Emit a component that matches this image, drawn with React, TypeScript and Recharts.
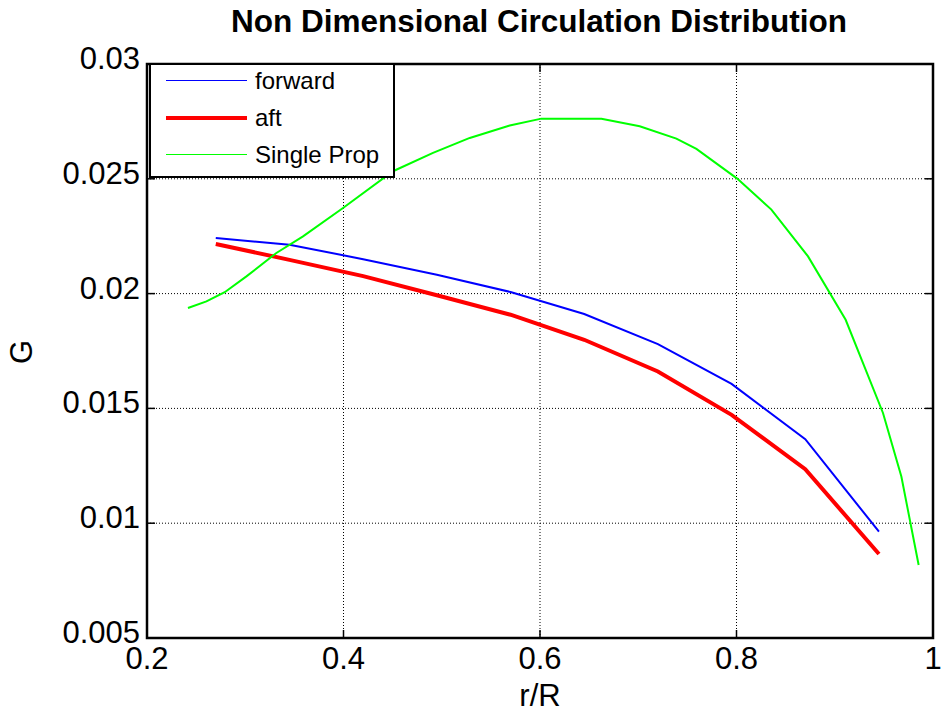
import React from 'react';
import {
  CartesianGrid,
  Line,
  LineChart,
  ReferenceArea,
  XAxis,
  YAxis,
} from 'recharts';

// radial stations of the forward / aft propellers
const rStations = [0.27, 0.345, 0.42, 0.495, 0.57, 0.645, 0.72, 0.795, 0.87, 0.945];
const forwardG = [0.02242, 0.02213, 0.0215, 0.02082, 0.02007, 0.01911, 0.0178, 0.01607, 0.01366, 0.00963];
const aftG = [0.02216, 0.02147, 0.02076, 0.01993, 0.01908, 0.01799, 0.01661, 0.01472, 0.01235, 0.00866];

// single propeller case uses its own stations
const singlePropR = [
  0.2417, 0.2605, 0.2791, 0.3012, 0.3317, 0.3588, 0.3995, 0.4504, 0.4911, 0.5285, 0.5692, 0.6014,
  0.6625, 0.7015, 0.7388, 0.7592, 0.8007, 0.8355, 0.8728, 0.9111, 0.9491, 0.9678, 0.9854,
];
const singlePropG = [
  0.01937, 0.01966, 0.02006, 0.02075, 0.02177, 0.02249, 0.02373, 0.02533, 0.02613, 0.02678, 0.02732, 0.02762,
  0.02762, 0.02729, 0.02675, 0.0263, 0.02501, 0.02366, 0.02162, 0.01886, 0.0148, 0.01203, 0.00818,
];

const xTicks = [0.2, 0.4, 0.6, 0.8, 1];
const yTicks = [0.005, 0.01, 0.015, 0.02, 0.025, 0.03];

const forwardData = rStations.map((r, i) => ({ r, g: forwardG[i] }));
const aftData = rStations.map((r, i) => ({ r, g: aftG[i] }));
const singleData = singlePropR.map((r, i) => ({ r, g: singlePropG[i] }));

const FONT = '"Liberation Sans", Arial, Helvetica, sans-serif';
const TICK_LEN = 8;

const LeftTick = (props: any) => {
  const { x, y, payload } = props;
  return (
    <g>
      <line x1={x + 7} x2={x + 7 + TICK_LEN} y1={y} y2={y} stroke="#000" strokeWidth={1.5} />
      <text x={x} y={y} dy={5} textAnchor="end" fontSize={31} fill="#000" fontFamily={FONT}>
        {payload.value}
      </text>
    </g>
  );
};

const BottomTick = (props: any) => {
  const { x, y, payload } = props;
  return (
    <g>
      <line x1={x} x2={x} y1={y - 9} y2={y - 9 - TICK_LEN} stroke="#000" strokeWidth={1.5} />
      <text x={x} y={y} dy="0.72em" textAnchor="middle" fontSize={31} fill="#000" fontFamily={FONT}>
        {payload.value}
      </text>
    </g>
  );
};

const RightTick = (props: any) => {
  const { x, y } = props;
  return <line x1={x - TICK_LEN} x2={x} y1={y} y2={y} stroke="#000" strokeWidth={1.5} />;
};

const TopTick = (props: any) => {
  const { x, y } = props;
  return <line x1={x} x2={x} y1={y} y2={y + TICK_LEN} stroke="#000" strokeWidth={1.5} />;
};

const legendItems = [
  { name: 'forward', color: '#0000ff', width: 1.5 },
  { name: 'aft', color: '#ff0000', width: 4 },
  { name: 'Single Prop', color: '#00ff00', width: 1.5 },
];

const LegendBox = () => (
  <div
    style={{
      position: 'absolute',
      left: 149,
      top: 63,
      width: 242,
      height: 111,
      border: '2px solid #000',
      background: '#fff',
      fontFamily: FONT,
      fontSize: 24,
      color: '#000',
      overflow: 'hidden',
    }}
  >
    <div style={{ transform: 'translateY(-3px)' }}>
      {legendItems.map(item => (
        <div key={item.name} style={{ display: 'flex', alignItems: 'center', height: 37 }}>
          <div style={{ width: 81, height: item.width, background: item.color, marginLeft: 15 }} />
          <span style={{ marginLeft: 8, lineHeight: '37px' }}>{item.name}</span>
        </div>
      ))}
    </div>
  </div>
);

export default function App() {
  return (
    <div style={{ position: 'absolute', left: 0, top: 0, width: 941, height: 717, background: '#fff' }}>
      <LineChart
        width={941}
        height={717}
        margin={{ top: 63, right: 7, bottom: 39, left: 47 }}
        style={{ position: 'absolute', left: 0, top: 0 }}
      >
        <CartesianGrid stroke="#000" strokeDasharray="1 2" strokeWidth={1} />
        <XAxis
          xAxisId={0}
          type="number"
          dataKey="r"
          domain={[0.2, 1]}
          ticks={xTicks}
          allowDataOverflow
          height={40}
          axisLine={false}
          tickLine={false}
          tickSize={0}
          tickMargin={9}
          tick={<BottomTick />}
        />
        <XAxis
          xAxisId="top"
          orientation="top"
          type="number"
          dataKey="r"
          domain={[0.2, 1]}
          ticks={xTicks}
          allowDataOverflow
          height={1}
          axisLine={false}
          tickLine={false}
          tickSize={0}
          tickMargin={0}
          tick={<TopTick />}
        />
        <YAxis
          yAxisId={0}
          type="number"
          domain={[0.005, 0.03]}
          ticks={yTicks}
          allowDataOverflow
          width={100}
          axisLine={false}
          tickLine={false}
          tickSize={0}
          tickMargin={7}
          tick={<LeftTick />}
        />
        <YAxis
          yAxisId="right"
          orientation="right"
          type="number"
          domain={[0.005, 0.03]}
          ticks={yTicks}
          allowDataOverflow
          width={1}
          axisLine={false}
          tickLine={false}
          tickSize={0}
          tickMargin={0}
          tick={<RightTick />}
        />
        <Line
          data={forwardData}
          dataKey="g"
          name="forward"
          type="linear"
          stroke="#0000ff"
          strokeWidth={2}
          dot={false}
          isAnimationActive={false}
        />
        <Line
          data={aftData}
          dataKey="g"
          name="aft"
          type="linear"
          stroke="#ff0000"
          strokeWidth={4}
          dot={false}
          isAnimationActive={false}
        />
        <Line
          data={singleData}
          dataKey="g"
          name="Single Prop"
          type="linear"
          stroke="#00ff00"
          strokeWidth={2}
          dot={false}
          isAnimationActive={false}
        />
        <ReferenceArea
          x1={0.2}
          x2={1}
          y1={0.005}
          y2={0.03}
          fill="none"
          stroke="#000"
          strokeWidth={2.5}
          ifOverflow="visible"
        />
      </LineChart>
      <LegendBox />
      <div
        style={{
          position: 'absolute',
          left: 0,
          width: 1078,
          top: 3,
          textAlign: 'center',
          fontFamily: FONT,
          fontWeight: 'bold',
          fontSize: 31.5,
          color: '#000',
        }}
      >
        Non Dimensional Circulation Distribution
      </div>
      <div
        style={{
          position: 'absolute',
          left: 440,
          width: 200,
          top: 678,
          textAlign: 'center',
          fontFamily: FONT,
          fontSize: 31,
          color: '#000',
        }}
      >
        r/R
      </div>
      <div
        style={{
          position: 'absolute',
          left: 22,
          top: 352,
          transform: 'translate(-50%, -50%) rotate(-90deg)',
          fontFamily: FONT,
          fontSize: 31,
          color: '#000',
        }}
      >
        G
      </div>
    </div>
  );
}
